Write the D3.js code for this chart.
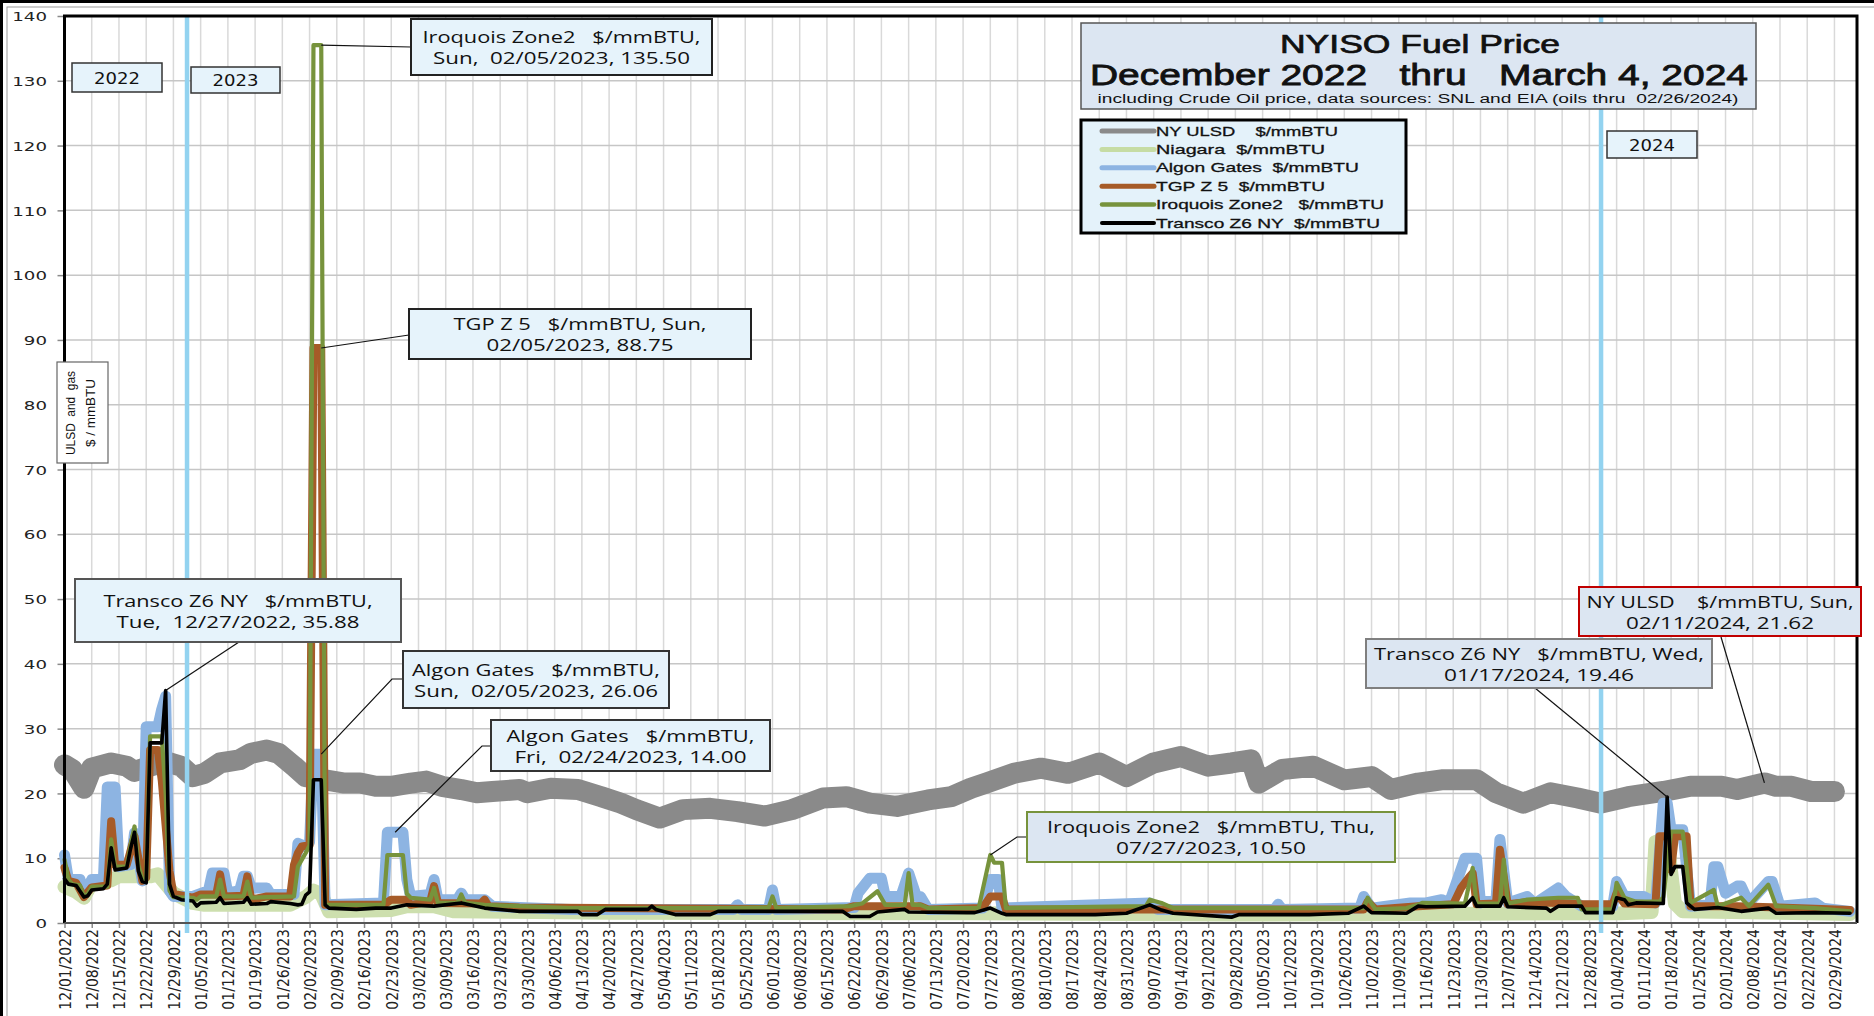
<!DOCTYPE html>
<html>
<head>
<meta charset="utf-8">
<script src="https://cdn.jsdelivr.net/npm/d3@7"></script>
<style>
  body { margin: 0; background: #fff; }
  svg { display: block; }
  text { white-space: pre; }
</style>
</head>
<body>
<div id="chart"></div>
<script>
// each point: [days after 12/01/2022, $/mmBTU]
var ulsd = [[0,24.4],[2,23.7],[5,20.8],[7,23.9],[12,24.7],[16,24.2],[18,23.4],[22,24.2],[26,24.9],[30,24.2],[33,22.6],[36,23.1],[40,24.7],[45,25.2],[48,26.2],[52,26.7],[55,26.2],[59,24.2],[62,22.6],[67,22.1],[72,21.6],[76,21.6],[80,21.1],[84,21.1],[89,21.6],[93,21.9],[97,21.1],[102,20.6],[106,20.1],[110,20.3],[117,20.6],[119,20.1],[125,20.8],[132,20.6],[138,19.5],[143,18.5],[147,17.5],[153,16.2],[159,17.5],[166,17.7],[173,17.2],[180,16.5],[187,17.5],[195,19.3],[201,19.5],[207,18.5],[214,18.0],[222,19.0],[228,19.5],[233,20.8],[237,21.6],[244,23.1],[251,23.9],[258,23.1],[266,24.7],[273,22.6],[280,24.7],[287,25.7],[294,24.2],[300,24.7],[305,25.2],[307,21.6],[313,23.7],[321,24.2],[329,22.1],[336,22.6],[341,20.6],[348,21.6],[354,22.1],[363,22.1],[368,20.1],[375,18.5],[382,20.1],[389,19.3],[395,18.5],[402,19.5],[411,20.3],[418,21.1],[426,21.1],[430,20.6],[437,21.62],[440,21.1],[444,21.1],[449,20.3],[455,20.3]];

var niagara = [[0,5.6],[3,4.8],[5,3.9],[7,6.2],[12,6.6],[14,7.2],[22,7.2],[24,7.5],[28,4.6],[33,3.1],[36,2.8],[58,2.8],[62,4.0],[64,5.0],[66,4.5],[68,1.8],[84,2.0],[88,2.6],[95,2.6],[100,1.8],[140,1.6],[200,1.5],[232,1.5],[300,1.3],[348,1.4],[400,1.5],[408,1.7],[409,12.5],[412,13.0],[414,3.0],[416,1.8],[459,1.4]];

var algon = [[0,10.5],[1,6.7],[4,6.7],[5,4.6],[6,5.5],[7,6.7],[10,6.7],[11,21.0],[13,21.0],[14,8.7],[17,9.0],[18,13.9],[20,6.5],[21,30.3],[24,30.3],[25,33.0],[26,35.0],[27,5.0],[28,4.1],[33,4.1],[37,5.0],[38,7.7],[41,7.7],[42,4.6],[45,5.0],[46,7.2],[47,7.2],[48,5.4],[52,5.4],[53,4.4],[59,4.4],[60,12.3],[62,11.8],[63,12.5],[64,26.06],[66,26.06],[67,2.8],[82,3.1],[83,14.0],[85,14.0],[87,14.0],[88,6.7],[89,4.1],[94,4.4],[95,6.7],[96,3.6],[101,3.6],[102,4.6],[103,3.6],[108,3.6],[110,2.6],[117,2.4],[130,2.1],[172,2.1],[173,2.8],[174,2.1],[181,2.1],[182,5.1],[183,2.1],[203,2.4],[204,4.6],[207,6.9],[210,6.9],[211,4.1],[215,4.1],[217,7.7],[219,4.1],[220,4.1],[222,2.1],[236,2.3],[238,6.7],[240,6.7],[241,2.3],[279,3.1],[281,2.1],[311,2.1],[312,2.9],[313,2.1],[333,2.3],[334,4.1],[336,2.3],[346,3.1],[350,3.1],[354,3.6],[356,3.1],[360,10.0],[363,10.0],[364,3.1],[368,3.6],[369,12.9],[371,3.1],[376,4.1],[378,3.0],[384,5.4],[386,4.1],[390,2.6],[398,2.6],[399,6.4],[401,4.1],[406,4.1],[409,3.1],[411,18.5],[412,18.5],[413,14.4],[416,14.4],[418,2.6],[423,2.8],[424,8.7],[425,8.7],[427,4.6],[430,5.7],[431,5.7],[433,3.1],[438,6.4],[439,6.4],[441,2.6],[450,3.1],[452,2.3],[459,1.8]];

var tgp = [[0,8.5],[1,6.5],[3,6.2],[5,4.0],[7,5.5],[11,5.8],[12,15.7],[13,9.0],[16,9.0],[18,13.4],[20,6.5],[21,7.0],[22,26.7],[24,26.7],[25,22.0],[26,15.0],[27,8.0],[28,4.5],[33,3.9],[35,4.4],[39,4.4],[40,7.5],[41,4.1],[46,4.2],[47,7.2],[48,3.6],[52,4.1],[58,4.1],[59,9.0],[60,10.8],[61,11.8],[63,12.0],[64,88.75],[66,88.75],[67,2.8],[82,2.8],[84,3.6],[88,3.6],[89,2.8],[94,3.3],[95,5.7],[96,3.1],[107,3.0],[108,3.6],[109,2.6],[117,2.4],[200,2.1],[203,2.6],[220,2.6],[222,2.1],[236,2.3],[238,4.1],[241,4.1],[242,2.1],[334,2.1],[335,3.3],[337,2.1],[348,2.6],[357,2.9],[359,5.4],[361,7.0],[362,7.7],[363,2.9],[368,3.0],[369,11.3],[371,2.9],[376,3.2],[384,3.1],[390,2.9],[398,2.9],[399,4.6],[401,3.0],[409,2.9],[410,13.4],[412,13.4],[413,8.2],[414,13.4],[417,13.4],[418,2.6],[430,2.6],[450,2.2],[459,2.0]];

var iroquois = [[0,9.8],[1,6.7],[2,6.0],[4,5.8],[5,4.1],[6,4.5],[7,5.6],[11,5.6],[12,12.9],[13,8.7],[16,8.7],[17,12.0],[18,14.9],[19,9.0],[20,6.7],[21,6.5],[22,28.8],[25,28.8],[26,20.0],[27,5.0],[28,4.0],[33,3.9],[34,3.6],[35,4.1],[39,4.1],[40,6.7],[41,4.1],[46,4.1],[47,6.4],[48,3.9],[52,4.0],[59,4.1],[60,8.7],[62,10.8],[63,12.0],[64,135.5],[66,135.5],[67,2.8],[82,2.8],[83,10.5],[87,10.5],[88,4.5],[89,3.9],[94,3.6],[95,5.4],[96,3.1],[101,3.1],[102,4.4],[103,3.1],[108,2.8],[117,2.6],[130,2.3],[170,2.3],[181,2.4],[182,4.1],[183,2.3],[202,2.6],[205,3.0],[209,4.9],[211,2.8],[216,2.8],[217,7.7],[218,2.8],[220,2.8],[222,2.3],[235,2.3],[238,10.5],[239,9.3],[241,9.3],[242,2.3],[278,2.6],[279,3.6],[282,3.1],[285,2.3],[334,2.3],[335,3.9],[337,2.1],[345,2.3],[348,2.8],[349,3.1],[360,3.0],[362,8.5],[363,3.0],[369,3.0],[370,9.8],[371,3.0],[376,3.6],[384,3.9],[389,3.9],[390,2.1],[398,2.1],[399,6.2],[401,3.9],[404,3.3],[410,3.3],[411,4.0],[413,14.1],[416,14.1],[418,3.1],[424,5.1],[425,2.6],[431,3.9],[433,2.6],[438,5.9],[440,2.6],[450,2.3],[459,1.8]];

var transco = [[0,6.8],[1,6.0],[3,5.8],[5,4.0],[6,4.2],[7,5.1],[10,5.3],[11,6.0],[12,11.6],[13,8.2],[16,8.5],[17,11.5],[18,14.0],[19,8.0],[20,6.4],[21,6.2],[22,27.8],[25,27.8],[26,35.88],[27,6.0],[28,4.1],[30,3.6],[33,3.4],[34,2.6],[35,3.1],[39,3.2],[40,3.9],[41,3.0],[46,3.2],[47,3.9],[48,2.9],[52,3.0],[53,3.3],[58,3.0],[60,2.8],[61,2.9],[62,4.3],[63,4.8],[64,22.1],[66,22.1],[67,2.8],[68,2.3],[75,2.1],[80,2.3],[84,2.3],[88,2.8],[95,2.6],[102,3.1],[108,2.3],[117,1.8],[132,1.8],[133,1.3],[137,1.3],[139,2.1],[150,2.1],[151,2.6],[152,2.1],[157,1.3],[166,1.3],[168,1.8],[200,1.8],[202,1.0],[207,1.0],[209,1.7],[216,2.1],[217,1.7],[232,1.6],[234,1.6],[238,2.3],[241,1.5],[242,1.3],[265,1.3],[273,1.5],[279,2.8],[282,2.0],[285,1.5],[300,0.9],[302,1.3],[320,1.3],[330,1.5],[334,2.6],[336,1.6],[345,1.5],[348,2.6],[350,2.5],[360,2.6],[362,3.9],[363,2.6],[369,2.6],[370,3.9],[371,2.5],[381,2.3],[382,1.8],[384,2.6],[390,2.6],[391,1.6],[398,1.6],[399,3.9],[401,3.6],[402,2.8],[404,3.1],[411,3.0],[412,19.46],[413,7.5],[414,8.7],[416,8.7],[417,3.1],[419,2.1],[425,2.4],[431,1.8],[438,2.3],[440,1.5],[450,1.6],[459,1.5]];

var legendLabels = ["NY ULSD    $/mmBTU", "Niagara  $/mmBTU", "Algon Gates  $/mmBTU", "TGP Z 5  $/mmBTU", "Iroquois Zone2   $/mmBTU", "Transco Z6 NY  $/mmBTU"];
var yearLabels = ["2022", "2023", "2024"];
var yearBreaks = ["2023-01-01T12:00", "2023-12-31T00:00"];
var yTicks = [0, 10, 20, 30, 40, 50, 60, 70, 80, 90, 100, 110, 120, 130, 140];

var W = 1874, H = 1016;
var plot = { left: 64.5, top: 16, right: 1857, bottom: 923 };
var start = new Date(2022, 11, 1);
var parseT = d3.timeParse("%Y-%m-%dT%H:%M");

var x = d3.scaleTime()
  .domain([start, new Date(2024, 2, 7)])
  .range([plot.left, plot.left + 462 * 3.89]);
var y = d3.scaleLinear().domain([0, 140]).range([plot.bottom, plot.top]);

var series = [
  { label: legendLabels[0], pts: ulsd, color: "#8a8a8a", width: 21, lw: 5 },
  { label: legendLabels[1], pts: niagara, color: "#cddfae", width: 14, lw: 5 },
  { label: legendLabels[2], pts: algon, color: "#8db4e2", width: 11, lw: 5 },
  { label: legendLabels[3], pts: tgp, color: "#a65b28", width: 8, lw: 5 },
  { label: legendLabels[4], pts: iroquois, color: "#77933c", width: 4.2, lw: 4.5 },
  { label: legendLabels[5], pts: transco, color: "#000000", width: 3.6, lw: 4 }
];

function dayDate(d) { return d3.timeDay.offset(start, d); }
function valueAt(pts, d) {
  var p = pts.find(function (q) { return q[0] === d; });
  return p ? p[1] : 0;
}

var svg = d3.select("#chart").append("svg")
  .attr("width", W).attr("height", H)
  .style("background", "#fff");

// outer frame (cropped on right and bottom)
svg.append("rect").attr("x", 1.5).attr("y", 1.5).attr("width", 1950).attr("height", 1100)
  .attr("fill", "none").attr("stroke", "#000").attr("stroke-width", 3);
svg.append("rect").attr("x", 7).attr("y", 7).attr("width", 1950).attr("height", 1100)
  .attr("fill", "none").attr("stroke", "#9a9a9a").attr("stroke-width", 1);

// grid
var weeks = d3.timeThursday.range(start, new Date(2024, 2, 1));
var grid = svg.append("g");
grid.selectAll(".vg").data(weeks.slice(1)).enter().append("line")
  .attr("x1", function (d) { return x(d); }).attr("x2", function (d) { return x(d); })
  .attr("y1", plot.top).attr("y2", plot.bottom)
  .attr("stroke", "#d9d9d9").attr("stroke-width", 1.5);
grid.selectAll(".hg").data(yTicks.slice(1, -1)).enter().append("line")
  .attr("x1", plot.left).attr("x2", plot.right)
  .attr("y1", function (d) { return y(d); }).attr("y2", function (d) { return y(d); })
  .attr("stroke", "#c6c6c6").attr("stroke-width", 1.5);

// axes
var yAxis = svg.append("g")
  .attr("transform", "translate(" + plot.left + ",0)")
  .call(d3.axisLeft(y).tickValues(yTicks).tickSize(7).tickFormat(d3.format("d")));
yAxis.select(".domain").remove();
yAxis.selectAll("line").attr("stroke", "#8a8a8a").attr("stroke-width", 1.5);
yAxis.selectAll("text")
  .attr("x", -12.5).attr("dy", "0.36em")
  .attr("transform", "scale(1.4,1)")
  .style("font-family", "DejaVu Sans").style("font-size", "13px").attr("fill", "#222");

var xAxis = svg.append("g")
  .attr("transform", "translate(0," + plot.bottom + ")")
  .call(d3.axisBottom(x).tickValues(weeks).tickSize(5).tickFormat(d3.timeFormat("%m/%d/%Y")));
xAxis.select(".domain").remove();
xAxis.selectAll("line").attr("stroke", "#8a8a8a").attr("stroke-width", 1.5);
xAxis.selectAll("text")
  .attr("transform", "rotate(-90) scale(1,1.15)")
  .attr("x", -6).attr("y", 0).attr("dy", "0.36em")
  .style("text-anchor", "end")
  .style("font-family", "DejaVu Sans").style("font-size", "14px").attr("fill", "#222");

// series
var line = d3.line()
  .x(function (p) { return x(dayDate(p[0])); })
  .y(function (p) { return y(p[1]); });

svg.append("g").selectAll("path").data(series).enter().append("path")
  .attr("d", function (s) { return line(s.pts); })
  .attr("fill", "none")
  .attr("stroke", function (s) { return s.color; })
  .attr("stroke-width", function (s) { return s.width; })
  .attr("stroke-linejoin", "round").attr("stroke-linecap", "round");

// year separators
svg.append("g").selectAll("line").data(yearBreaks).enter().append("line")
  .attr("x1", function (d) { return x(parseT(d)); }).attr("x2", function (d) { return x(parseT(d)); })
  .attr("y1", plot.top).attr("y2", plot.bottom + 10)
  .attr("stroke", "#93d3f0").attr("stroke-width", 4.5);

// plot frame
svg.append("path")
  .attr("d", "M" + plot.left + "," + plot.bottom + "V" + plot.top + "H" + plot.right + "V" + plot.bottom)
  .attr("fill", "none").attr("stroke", "#000").attr("stroke-width", 3);
svg.append("line")
  .attr("x1", plot.left).attr("x2", plot.right).attr("y1", plot.bottom).attr("y2", plot.bottom)
  .attr("stroke", "#555").attr("stroke-width", 2);

function box(g, b, fill, stroke, sw) {
  g.append("rect").attr("x", b[0]).attr("y", b[1]).attr("width", b[2]).attr("height", b[3])
    .attr("fill", fill).attr("stroke", stroke).attr("stroke-width", sw);
}
function label(g, cx, by, str, size, len, family) {
  var t = g.append("text").attr("x", cx).attr("y", by).text(str)
    .attr("text-anchor", "middle").attr("fill", "#111")
    .style("font-family", family).style("font-size", size + "px");
  if (len) t.attr("textLength", len).attr("lengthAdjust", "spacingAndGlyphs");
  return t;
}

// year boxes
var yearBoxes = [[72, 63, 90, 29], [191, 67, 89, 26], [1607, 131, 90, 27]];
var yb = svg.append("g");
yearLabels.forEach(function (t, i) {
  var b = yearBoxes[i];
  box(yb, b, "#e6f3fb", "#333", 1.5);
  label(yb, b[0] + b[2] / 2, b[1] + b[3] / 2 + 6, t, 15, 46, "DejaVu Sans");
});

// y-axis title
var yt = svg.append("g");
box(yt, [57, 362, 51, 101], "#fff", "#666", 1.2);
yt.append("text").attr("transform", "translate(75,413) rotate(-90)")
  .attr("text-anchor", "middle").style("font-family", "Liberation Sans Narrow, Liberation Sans").style("font-size", "13px")
  .attr("textLength", 84).attr("lengthAdjust", "spacingAndGlyphs")
  .attr("fill", "#111").text("ULSD  and  gas");
yt.append("text").attr("transform", "translate(95,413) rotate(-90)")
  .attr("text-anchor", "middle").style("font-family", "Liberation Sans Narrow, Liberation Sans").style("font-size", "13px")
  .attr("textLength", 68).attr("lengthAdjust", "spacingAndGlyphs")
  .attr("fill", "#111").text("$ / mmBTU");

// title
var tg = svg.append("g");
box(tg, [1081, 23, 675, 86], "#dce6f2", "#555", 1.5);
var narrow = "Liberation Sans Narrow, Liberation Sans, sans-serif";
label(tg, 1420, 53, "NYISO Fuel Price", 25, 280, narrow).attr("stroke", "#111").attr("stroke-width", 0.7);
label(tg, 1419, 85, "December 2022   thru   March 4, 2024", 29, 658, narrow).attr("stroke", "#111").attr("stroke-width", 0.8);
label(tg, 1418, 103, "including Crude Oil price, data sources: SNL and EIA (oils thru  02/26/2024)", 12.5, 641, narrow);

// legend
var legendWidths = [182, 169, 203, 169, 228, 224];
var lg = svg.append("g");
box(lg, [1081, 120, 325, 113], "#e4f2fa", "#000", 3);
series.forEach(function (s, i) {
  var cy = 131 + i * 18.4;
  lg.append("line").attr("x1", 1102).attr("x2", 1154).attr("y1", cy).attr("y2", cy)
    .attr("stroke", s.color === "#cddfae" ? "#c6dca4" : s.color).attr("stroke-width", s.lw)
    .attr("stroke-linecap", "round");
  lg.append("text").attr("x", 1156).attr("y", cy + 4.5).text(s.label)
    .attr("textLength", legendWidths[i]).attr("lengthAdjust", "spacingAndGlyphs")
    .attr("stroke", "#111").attr("stroke-width", 0.3)
    .style("font-family", narrow).style("font-size", "13.5px").attr("fill", "#111");
});

// callouts: anchor read from the series at the given day
var notes = [
  { s: iroquois, day: 66, lines: ["Iroquois Zone2   $/mmBTU,", "Sun,  02/05/2023, 135.50"], widths: [278, 257], b: [411, 19, 301, 56], from: [[411, 47]], fill: "#e6f3fb", stroke: "#222" },
  { s: tgp, day: 66, lines: ["TGP Z 5   $/mmBTU, Sun,", "02/05/2023, 88.75"], widths: [253, 187], b: [409, 309, 342, 50], from: [[409, 335]], fill: "#e6f3fb", stroke: "#222" },
  { s: transco, day: 26, lines: ["Transco Z6 NY   $/mmBTU,", "Tue,  12/27/2022, 35.88"], widths: [269, 243], b: [75, 579, 326, 63], from: [[239, 642]], fill: "#e6f3fb", stroke: "#555" },
  { s: algon, day: 66, lines: ["Algon Gates   $/mmBTU,", "Sun,  02/05/2023, 26.06"], widths: [248, 244], b: [403, 651, 266, 57], from: [[403, 679], [392, 679]], fill: "#e6f3fb", stroke: "#333" },
  { s: algon, day: 85, lines: ["Algon Gates   $/mmBTU,", "Fri,  02/24/2023, 14.00"], widths: [248, 232], b: [491, 720, 279, 51], from: [[491, 746], [482, 746]], fill: "#e6f3fb", stroke: "#333" },
  { s: iroquois, day: 238, lines: ["Iroquois Zone2   $/mmBTU, Thu,", "07/27/2023, 10.50"], widths: [328, 190], b: [1027, 812, 368, 50], from: [[1027, 837], [1017, 837]], fill: "#dce6f2", stroke: "#77933c" },
  { s: transco, day: 412, lines: ["Transco Z6 NY   $/mmBTU, Wed,", "01/17/2024, 19.46"], widths: [330, 190], b: [1366, 639, 346, 49], from: [[1535, 688]], fill: "#dce6f2", stroke: "#7f7f7f" },
  { s: ulsd, day: 437, lines: ["NY ULSD    $/mmBTU, Sun,", "02/11/2024, 21.62"], widths: [267, 188], b: [1579, 587, 282, 49], from: [[1721, 637]], fill: "#dce6f2", stroke: "#c00000" }
];

var ng = svg.append("g");
notes.forEach(function (n) {
  var px = x(dayDate(n.day)), py = y(valueAt(n.s, n.day));
  var pts = n.from.concat([[px, py]]);
  ng.append("path").attr("d", d3.line()(pts))
    .attr("fill", "none").attr("stroke", "#111").attr("stroke-width", 1.2);
});
notes.forEach(function (n) {
  var b = n.b, cx = b[0] + b[2] / 2, cy = b[1] + b[3] / 2;
  box(ng, b, n.fill, n.stroke, 2);
  label(ng, cx, cy - 4, n.lines[0], 16.5, n.widths[0], "Open Sans");
  label(ng, cx, cy + 17, n.lines[1], 16.5, n.widths[1], "Open Sans");
});
</script>
</body>
</html>
